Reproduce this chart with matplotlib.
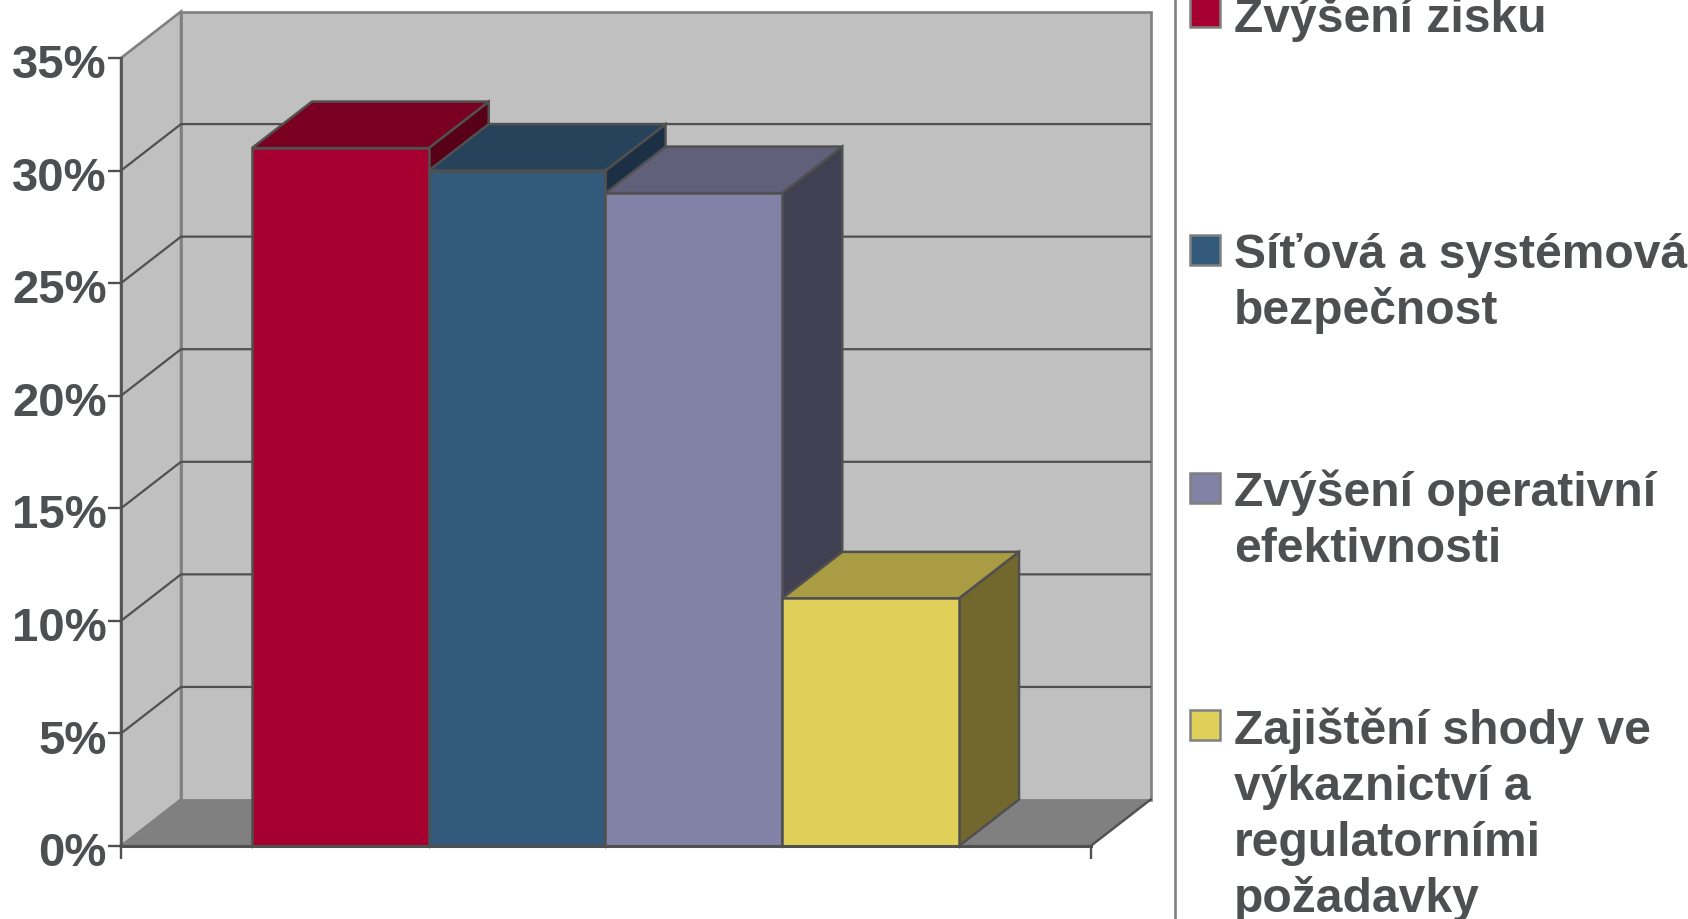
import matplotlib
matplotlib.use('Agg')
import matplotlib.pyplot as plt
from matplotlib.lines import Line2D
from matplotlib.patches import Polygon, Rectangle
from matplotlib.transforms import ScaledTranslation

plt.rcParams['font.family'] = ['Liberation Sans', 'DejaVu Sans']

# data
categories = ['Zvýšení zisku', 'Síťová a systémová\nbezpečnost',
              'Zvýšení operativní\nefektivnosti',
              'Zajištění shody ve\nvýkaznictví a\nregulatorními\npožadavky']
values = [31, 30, 29, 11]
y_ticks = [0, 5, 10, 15, 20, 25, 30, 35]
y_labels = ['0%', '5%', '10%', '15%', '20%', '25%', '30%', '35%']

front_colors = ['#A50030', '#335A7A', '#8282A6', '#E0D05A']
top_colors = ['#7A0022', '#27425B', '#60607B', '#A99C42']
side_colors = ['#570018', '#1B3045', '#404052', '#72682E']

W, H = 1688, 920
TEXT = '#4D4F51'
EDGE = '#505050'
GREY = '#808080'
WALL = '#C0C0C0'

# oblique depth of the fake 3D, in data units
depth_x = 0.3395
depth_y = 2.065
x_left = -1.241
x_right = 4.245


def px(x, y):
    return x / W, 1 - y / H


fig = plt.figure(figsize=(W / 100, H / 100), dpi=100, facecolor='white')
ax = fig.add_axes([121 / W, (H - 847) / H, (1150.7 - 121) / W, (847 - 12.5) / H])
ax.set_xlim(x_left, x_right + depth_x)
ax.set_ylim(0, 35 + depth_y)
ax.patch.set_visible(False)

# walls and floor
y_top = y_ticks[-1]
ax.add_patch(Rectangle((x_left + depth_x, depth_y), x_right - x_left, y_top,
                       fc=WALL, ec=GREY, lw=1.9, zorder=0.5, clip_on=False))
ax.add_patch(Polygon([(x_left, 0), (x_left + depth_x, depth_y),
                      (x_left + depth_x, y_top + depth_y), (x_left, y_top)],
                     fc=WALL, ec=GREY, lw=1.9, zorder=0.5, clip_on=False))
ax.add_patch(Polygon([(x_left, 0), (x_right, 0), (x_right + depth_x, depth_y),
                      (x_left + depth_x, depth_y)],
                     fc=GREY, ec='none', zorder=0.55, clip_on=False))
ax.plot([x_right, x_right + depth_x], [0, depth_y], color=EDGE, lw=1.7, zorder=0.6, clip_on=False)

# gridlines, on the side wall and on the back wall
for v in y_ticks[1:-1]:
    ax.plot([x_left, x_left + depth_x, x_right + depth_x],
            [v, v + depth_y, v + depth_y], color=EDGE, lw=1.6, zorder=0.6)

# bars, left to right so that each one covers the side of the previous one
for i, v in enumerate(values):
    l, r = i - 0.5, i + 0.5
    ax.add_patch(Polygon([(r, 0), (r + depth_x, depth_y), (r + depth_x, v + depth_y), (r, v)],
                         fc=side_colors[i], ec=EDGE, lw=1.8, zorder=1, joinstyle='miter'))
    ax.add_patch(Polygon([(l, v), (r, v), (r + depth_x, v + depth_y), (l + depth_x, v + depth_y)],
                         fc=top_colors[i], ec=EDGE, lw=1.8, zorder=1, joinstyle='miter'))
    ax.bar(i, v, width=1, color=front_colors[i], edgecolor=EDGE, linewidth=1.8, zorder=1)

# axes
for s in ['top', 'right']:
    ax.spines[s].set_visible(False)
ax.spines['left'].set_bounds(0, y_top)
ax.spines['bottom'].set_bounds(x_left, x_right)
ax.spines['left'].set_color(EDGE)
ax.spines['bottom'].set_color(EDGE)
ax.spines['left'].set_linewidth(1.9)
ax.spines['bottom'].set_linewidth(2.2)

ax.set_yticks(y_ticks)
ax.set_yticklabels(y_labels, fontsize=34, fontweight='bold', color=TEXT)
ax.tick_params(axis='y', length=9.4, width=1.7, color=EDGE, pad=1.0)
for lbl in ax.get_yticklabels():
    lbl.set_transform(lbl.get_transform() + ScaledTranslation(0, -1.5 / 72, fig.dpi_scale_trans))
ax.set_xticks([x_left, x_right])
ax.set_xticklabels([])
ax.tick_params(axis='x', length=9.4, width=1.7, color=EDGE)
ax.set_xticks([-0.5, 0.5, 1.5, 2.5, 3.5], minor=True)
ax.tick_params(axis='x', which='minor', length=1.5, width=0.7, color=GREY)

# legend, separated by a vertical rule
x0, y0 = px(1174.5, 0)
x1, y1 = px(1174.5, H)
fig.add_artist(Line2D([x0, x1], [y0, y1], color=GREY, lw=1.9))

box_tops = [-2, 236, 474, 711]
baselines = [32, 268, 506, 744]
for i, label in enumerate(categories):
    bx, by = px(1190, box_tops[i] + 30)
    fig.add_artist(Rectangle((bx, by), 30 / W, 30 / H, transform=fig.transFigure,
                             fc=front_colors[i], ec=GREY, lw=1.8))
    for j, line in enumerate(label.split('\n')):
        tx, ty = px(1234, baselines[i] + 56 * j)
        fig.text(tx, ty, line, fontsize=34.6, fontweight='bold', color=TEXT, va='baseline', ha='left')

fig.savefig('out.png', dpi=100)
